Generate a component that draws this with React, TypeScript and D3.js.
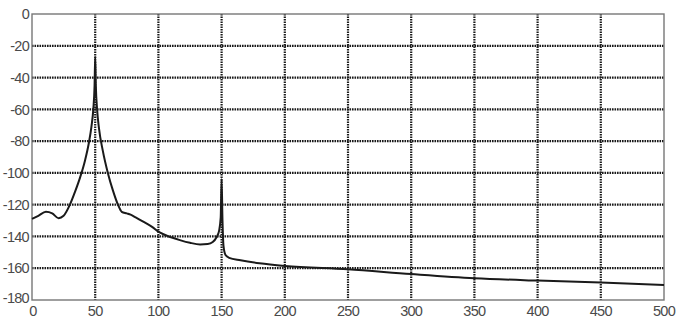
import React from "react";
import * as d3 from "d3";

const freqs = [0, 5, 11, 16, 21, 25, 30, 34, 38, 42, 45, 47, 48.5, 49.5, 50, 50.5, 51.5, 53, 56, 60, 64, 68, 71, 75, 78, 82, 88, 95, 101, 110, 117, 125, 133, 139, 143, 146, 148, 149.3, 150, 150.7, 151.5, 153, 156, 165, 180, 200, 250, 300, 350, 400, 450, 500];
const levels = [-129, -127, -124.5, -125.5, -128.5, -127, -120, -112, -103, -92, -81, -71, -60, -45, -27, -45, -60, -72, -86, -100, -111, -120, -124.5, -125.5, -126.3, -128, -130.7, -134, -137.5, -140.5, -142.3, -144, -145, -144.8, -143.5, -140.5, -136.5, -128, -104, -130, -146, -151.5, -153.5, -155, -156.9, -158.6, -160.7, -163.7, -166.3, -167.8, -169, -170.5];
const xTicks = [0, 50, 100, 150, 200, 250, 300, 350, 400, 450, 500];
const yTicks = [0, -20, -40, -60, -80, -100, -120, -140, -160, -180];

const W = 688, H = 327;
const L = 32, R = 664, T = 14, B = 300;

export default function App() {
  const x = d3.scaleLinear().domain([0, 500]).range([L, R]);
  const y = d3.scaleLinear().domain([-180, 0]).range([B, T]);
  const pts: [number, number][] = freqs.map((f, i) => [f, levels[i]]);
  const line = d3.line<[number, number]>().x(d => x(d[0])).y(d => y(d[1])).curve(d3.curveMonotoneX);
  const font = { fontFamily: "Liberation Sans, Arial, sans-serif", fontSize: 14.5, letterSpacing: -0.7, fill: "#4a4a4a" };
  return (
    <div style={{ position: "fixed", left: 0, top: 0 }}>
      <svg width={W} height={H} style={{ display: "block", background: "#fff" }}>
        {xTicks.slice(1, -1).map(t => (
          <line key={"gx" + t} x1={x(t)} x2={x(t)} y1={T} y2={B} stroke="#1a1a1a" strokeWidth={2.2} strokeDasharray="1.6,0.9" />
        ))}
        {yTicks.slice(1, -1).map(t => (
          <line key={"gy" + t} x1={L} x2={R} y1={y(t)} y2={y(t)} stroke="#1a1a1a" strokeWidth={2.2} strokeDasharray="1.6,0.9" />
        ))}
        <rect x={L} y={T} width={R - L} height={B - T} fill="none" stroke="#777" strokeWidth={1.4} />
        <path d={line(pts) || ""} fill="none" stroke="#1a1a1a" strokeWidth={2} />
        {yTicks.map(t => (
          <text key={"ty" + t} x={L - 3} y={y(t)} dy={t === -180 ? "0.2em" : "0.36em"} textAnchor="end" {...font}>{t}</text>
        ))}
        {xTicks.map(t => (
          <text key={"tx" + t} x={x(t) + (t === 0 ? 1 : 0)} y={B + 16} textAnchor="middle" {...font}>{t}</text>
        ))}
      </svg>
    </div>
  );
}
